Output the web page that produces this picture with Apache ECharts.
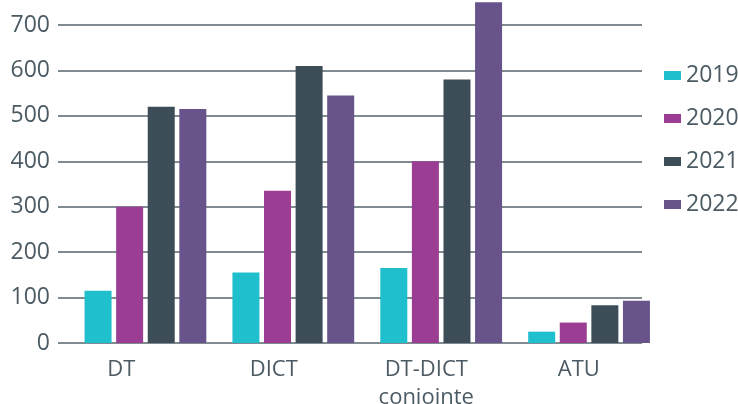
<!DOCTYPE html>
<html>
<head>
<meta charset="utf-8">
<script src="https://cdn.jsdelivr.net/npm/echarts@6/dist/echarts.min.js"></script>
<style>html,body{margin:0;padding:0;background:#fff;}#c{width:738px;height:404px;}</style>
</head>
<body>
<div id="c"></div>
<script>
const categories = ['DT', 'DICT', 'DT-DICT\nconjointe', 'ATU'];
const years = ['2019', '2020', '2021', '2022'];
const v2019 = [115, 155, 165, 25];
const v2020 = [300, 335, 400, 45];
const v2021 = [520, 610, 580, 83];
const v2022 = [515, 545, 750, 93];
const yTicks = [0, 100, 200, 300, 400, 500, 600, 700];
const colors = ['#20BFCE', '#9A3D93', '#3C4D57', '#68538B'];
const seriesValues = [v2019, v2020, v2021, v2022];

const textColor = '#4b5a63';
const font = 'Open Sans';
const chart = echarts.init(document.getElementById('c'), null, {renderer: 'canvas'});
chart.setOption({
  animation: false,
  textStyle: {fontFamily: font},
  color: colors,
  legend: {
    orient: 'vertical',
    left: 659,
    top: 59,
    itemWidth: 17,
    itemHeight: 9,
    itemGap: 20,
    icon: 'rect',
    textStyle: {fontSize: 23, color: textColor, fontFamily: font, lineHeight: 23},
    data: years
  },
  grid: [
    {left: 58, right: 96, top: 25, bottom: 61, outerBoundsMode: 'none', containLabel: false},
    {left: 45, right: 83, top: 25, bottom: 61, outerBoundsMode: 'none', containLabel: false},
    {left: 71.5, right: 75, top: 25, bottom: 61, outerBoundsMode: 'none', containLabel: false}
  ],
  xAxis: [
    {gridIndex: 0, type: 'category', data: categories, show: false},
    {gridIndex: 1, type: 'category', data: categories,
      axisLine: {show: false}, axisTick: {show: false},
      axisLabel: {fontSize: 22, color: textColor, margin: 13, lineHeight: 28, fontFamily: font}},
    {gridIndex: 2, type: 'category', data: categories, show: false}
  ],
  yAxis: [
    {gridIndex: 0, type: 'value', min: yTicks[0], max: yTicks[yTicks.length - 1], interval: 100,
      axisLine: {show: false}, axisTick: {show: false},
      axisLabel: {fontSize: 23, color: textColor, margin: 8, fontFamily: font},
      splitLine: {lineStyle: {color: '#56646c', width: 1.5}}},
    {gridIndex: 1, type: 'value', min: 0, max: 700, show: false, splitLine: {show: false}},
    {gridIndex: 2, type: 'value', min: 0, max: 700, show: false, splitLine: {show: false}}
  ],
  series: years.map((y, i) => ({
    name: y,
    type: 'bar',
    xAxisIndex: 2,
    yAxisIndex: 2,
    data: seriesValues[i],
    barWidth: 27,
    barGap: '17%',
    clip: false,
    itemStyle: {color: colors[i]}
  }))
});
</script>
</body>
</html>
